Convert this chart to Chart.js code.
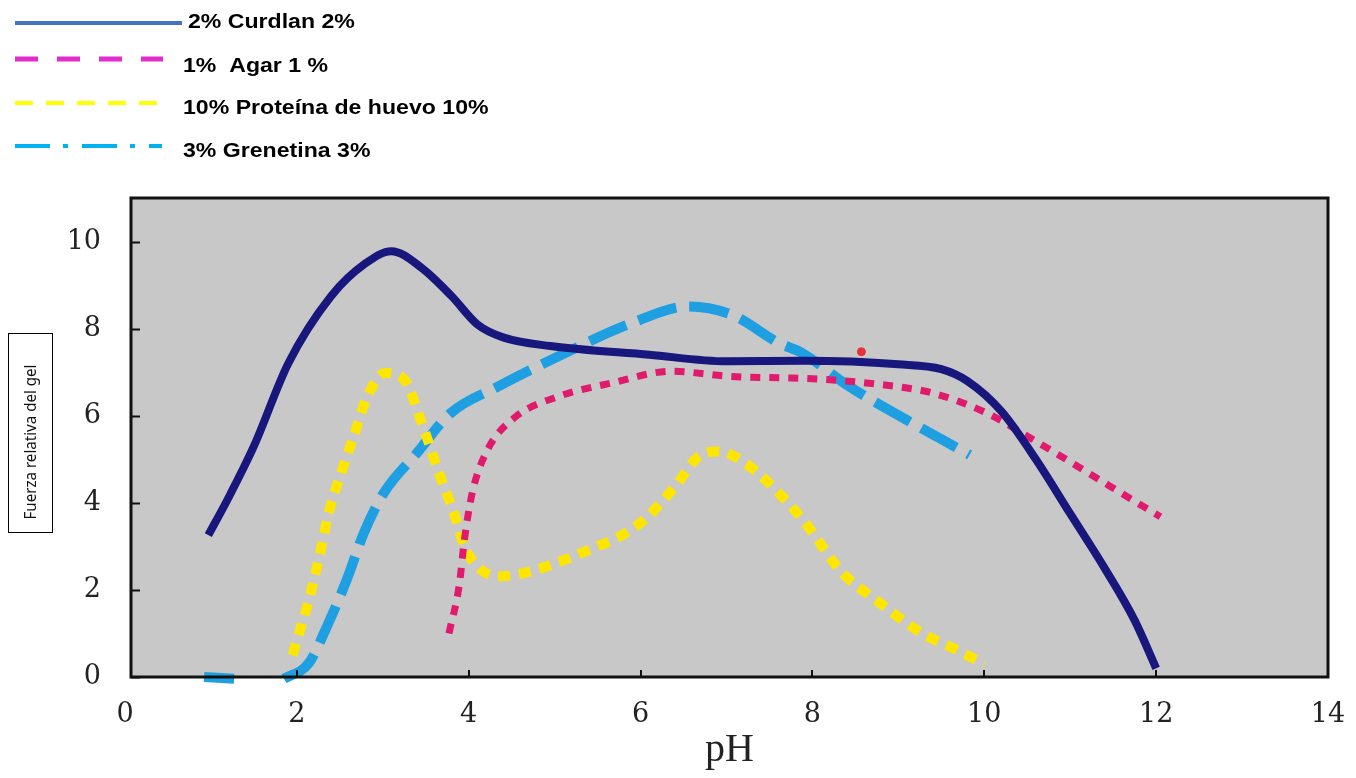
<!DOCTYPE html>
<html>
<head>
<meta charset="utf-8">
<script src="https://cdn.jsdelivr.net/npm/chart.js@4.4.1/dist/chart.umd.min.js"></script>
<style>
  html, body { margin: 0; padding: 0; background: #fff; }
  #wrap { width: 1356px; height: 778px; position: relative; }
</style>
</head>
<body>
<div id="wrap"><canvas id="gelChart" width="1356" height="778"></canvas></div>
<script>
// pH axis values and relative gel strength
var curdlanPH = [0.97, 1.2, 1.5, 1.9, 2.4, 2.8, 3.1, 3.45, 3.8, 4.1, 4.4, 4.95, 6.1, 7, 7.9, 9, 9.5, 9.8, 10.2, 10.6, 11, 11.4, 11.75, 12.0];
var curdlanGel = [3.26, 4.1, 5.3, 7.2, 8.75, 9.5, 9.78, 9.4, 8.75, 8.1, 7.8, 7.6, 7.4, 7.25, 7.26, 7.18, 7.07, 6.8, 6.1, 5.0, 3.75, 2.5, 1.3, 0.2];

var agarPH = [3.77, 3.89, 3.95, 4.04, 4.22, 4.53, 5.04, 5.66, 6.36, 7.06, 7.65, 8.0, 8.82, 9.4, 10.03, 10.57, 11.15, 11.78, 12.05];
var agarGel = [1.0, 2.11, 3.15, 4.22, 5.22, 5.95, 6.44, 6.75, 7.02, 6.9, 6.87, 6.85, 6.71, 6.52, 6.06, 5.45, 4.76, 4.0, 3.68];

var huevoPH = [1.95, 2.15, 2.27, 2.37, 2.54, 2.66, 2.82, 3.03, 3.25, 3.44, 3.67, 3.83, 3.95, 4.1, 4.34, 4.65, 5.35, 5.97, 6.4, 6.67, 6.91, 7.22, 7.65, 7.92, 8.35, 8.74, 9.28, 9.64, 10.0];
var huevoGel = [0.5, 1.85, 2.84, 3.76, 4.83, 5.52, 6.44, 6.98, 6.83, 5.91, 4.6, 3.76, 3.0, 2.54, 2.31, 2.39, 2.88, 3.49, 4.37, 5.06, 5.18, 4.91, 4.14, 3.53, 2.39, 1.77, 1.0, 0.66, 0.3];

// null marks the break in the curve near the baseline
var grenetinaPH = [0.92, 1.27, 1.55, 1.85, 2.14, 2.35, 2.58, 2.78, 3.01, 3.4, 3.79, 4.34, 5.04, 5.9, 6.56, 7.06, 7.61, 7.88, 8.43, 9.09, 9.83];
var grenetinaGel = [0.0, -0.04, null, -0.04, 0.32, 1.16, 2.23, 3.31, 4.22, 5.15, 6.06, 6.67, 7.36, 8.13, 8.51, 8.32, 7.67, 7.44, 6.67, 5.91, 5.1];

// stray red dot visible in the original figure
var strayPH = [8.57];
var strayGel = [7.47];

var xTicks = [0, 2, 4, 6, 8, 10, 12, 14];
var yTicks = [0, 2, 4, 6, 8, 10];

var legendLabels = ['2% Curdlan 2%', '1%  Agar 1 %', '10% Proteína de huevo 10%', '3% Grenetina 3%'];

function toPoints(xs, ys) {
    return xs.map(function (x, i) { return { x: x, y: ys[i] }; });
}

// gray plot background, inner ticks and frame, legend and y-title box
var decorPlugin = {
    id: 'decor',
    beforeDatasetsDraw: function (chart) {
        var a = chart.chartArea, ctx = chart.ctx;
        ctx.save();
        ctx.fillStyle = '#c8c8c8';
        ctx.fillRect(a.left, a.top, a.right - a.left, a.bottom - a.top);
        ctx.restore();
    },
    afterDatasetsDraw: function (chart) {
        var a = chart.chartArea, ctx = chart.ctx;
        var xs = chart.scales.x, ys = chart.scales.y;
        ctx.save();
        ctx.strokeStyle = '#111';
        ctx.lineWidth = 2;
        yTicks.forEach(function (v) {
            var py = Math.round(ys.getPixelForValue(v)) + 0.5;
            ctx.beginPath(); ctx.moveTo(a.left, py); ctx.lineTo(a.left + 9, py); ctx.stroke();
        });
        xTicks.forEach(function (v) {
            var px = Math.round(xs.getPixelForValue(v));
            if (px <= a.left + 2 || px >= a.right - 2) return;
            ctx.beginPath(); ctx.moveTo(px, a.bottom); ctx.lineTo(px, a.bottom - 7); ctx.stroke();
        });
        ctx.lineWidth = 3;
        ctx.strokeRect(a.left, a.top, a.right - a.left, a.bottom - a.top);
        ctx.restore();
    },
    afterDraw: function (chart) {
        var ctx = chart.ctx;
        var samples = [
            { color: '#4472c4', width: 4, dash: [], x0: 15, x1: 182, y: 23, ty: 28, tx: 188 },
            { color: '#e22ccc', width: 5, dash: [23, 19], x0: 15, x1: 163, y: 59, ty: 72, tx: 183 },
            { color: '#ffff00', width: 4, dash: [18, 13], x0: 15, x1: 158, y: 103, ty: 114, tx: 183 },
            { color: '#00b0f0', width: 4, dash: [35, 13, 5, 14], x0: 15, x1: 162, y: 146, ty: 157, tx: 183 }
        ];
        ctx.save();
        samples.forEach(function (s, i) {
            ctx.beginPath();
            ctx.setLineDash(s.dash);
            ctx.strokeStyle = s.color;
            ctx.lineWidth = s.width;
            ctx.moveTo(s.x0, s.y);
            ctx.lineTo(s.x1, s.y);
            ctx.stroke();
            ctx.setLineDash([]);
            ctx.save();
            ctx.translate(s.tx, s.ty);
            ctx.scale(1.1, 1);
            ctx.font = 'bold 21px "Liberation Sans", Arial, sans-serif';
            ctx.fillStyle = '#000';
            ctx.textBaseline = 'alphabetic';
            ctx.fillText(legendLabels[i], 0, 0);
            ctx.restore();
        });

        // y-axis title in a box
        ctx.strokeStyle = '#000';
        ctx.lineWidth = 1;
        ctx.strokeRect(8.5, 333.5, 44, 199);
        ctx.translate(31, 442);
        ctx.rotate(-Math.PI / 2);
        ctx.font = '17px "Liberation Sans Narrow", "Noto Sans", sans-serif';
        var title = 'Fuerza relativa del gel';
        var w = ctx.measureText(title).width;
        ctx.scale(155 / w, 1);
        ctx.fillStyle = '#111';
        ctx.textAlign = 'center';
        ctx.textBaseline = 'middle';
        ctx.fillText(title, 0, 0);
        ctx.restore();
    }
};

var tickFont = { family: '"DejaVu Serif", serif', size: 27 };

var ctx = document.getElementById('gelChart');
new Chart(ctx, {
    type: 'line',
    data: {
        datasets: [{
            label: legendLabels[0],
            data: toPoints(curdlanPH, curdlanGel),
            borderColor: '#17177d',
            borderWidth: 8
        }, {
            label: legendLabels[1],
            data: toPoints(agarPH, agarGel),
            borderColor: '#e01a6c',
            borderWidth: 7,
            borderDash: [10, 9]
        }, {
            label: legendLabels[2],
            data: toPoints(huevoPH, huevoGel),
            borderColor: '#ffe600',
            borderWidth: 10,
            borderDash: [12, 9]
        }, {
            label: legendLabels[3],
            data: toPoints(grenetinaPH, grenetinaGel),
            borderColor: '#1e9fe2',
            borderWidth: 10,
            borderDash: [40, 13],
            spanGaps: false
        }, {
            label: 'stray',
            data: toPoints(strayPH, strayGel),
            borderColor: '#e8303a',
            backgroundColor: '#e8303a',
            showLine: false,
            pointRadius: 4
        }]
    },
    options: {
        responsive: false,
        animation: false,
        layout: { padding: { top: 198, right: 28, left: 0, bottom: 0 } },
        elements: {
            point: { radius: 0, hoverRadius: 0 },
            line: { borderCapStyle: 'butt', fill: false, cubicInterpolationMode: 'monotone' }
        },
        datasets: { line: { clip: 8 } },
        plugins: {
            legend: { display: false },
            tooltip: { enabled: false }
        },
        scales: {
            x: {
                type: 'linear',
                min: 0.07,
                max: 14,
                afterFit: function (s) { s.height = 101; s.paddingRight = 0; s.paddingLeft = 0; },
                afterBuildTicks: function (s) { s.ticks = xTicks.map(function (v) { return { value: v }; }); },
                grid: { display: false, drawTicks: false },
                border: { display: false },
                ticks: {
                    padding: 22,
                    color: '#222',
                    font: tickFont
                },
                title: {
                    display: true,
                    text: 'pH',
                    color: '#222',
                    padding: { top: 4 },
                    font: { family: '"Liberation Serif", serif', size: 40 }
                }
            },
            y: {
                type: 'linear',
                min: 0,
                max: 11,
                afterFit: function (s) { s.width = 131; },
                afterBuildTicks: function (s) { s.ticks = yTicks.map(function (v) { return { value: v }; }); },
                grid: { display: false, drawTicks: false },
                border: { display: false },
                ticks: {
                    padding: 30,
                    color: '#222',
                    font: tickFont
                }
            }
        }
    },
    plugins: [decorPlugin]
});
</script>
</body>
</html>
